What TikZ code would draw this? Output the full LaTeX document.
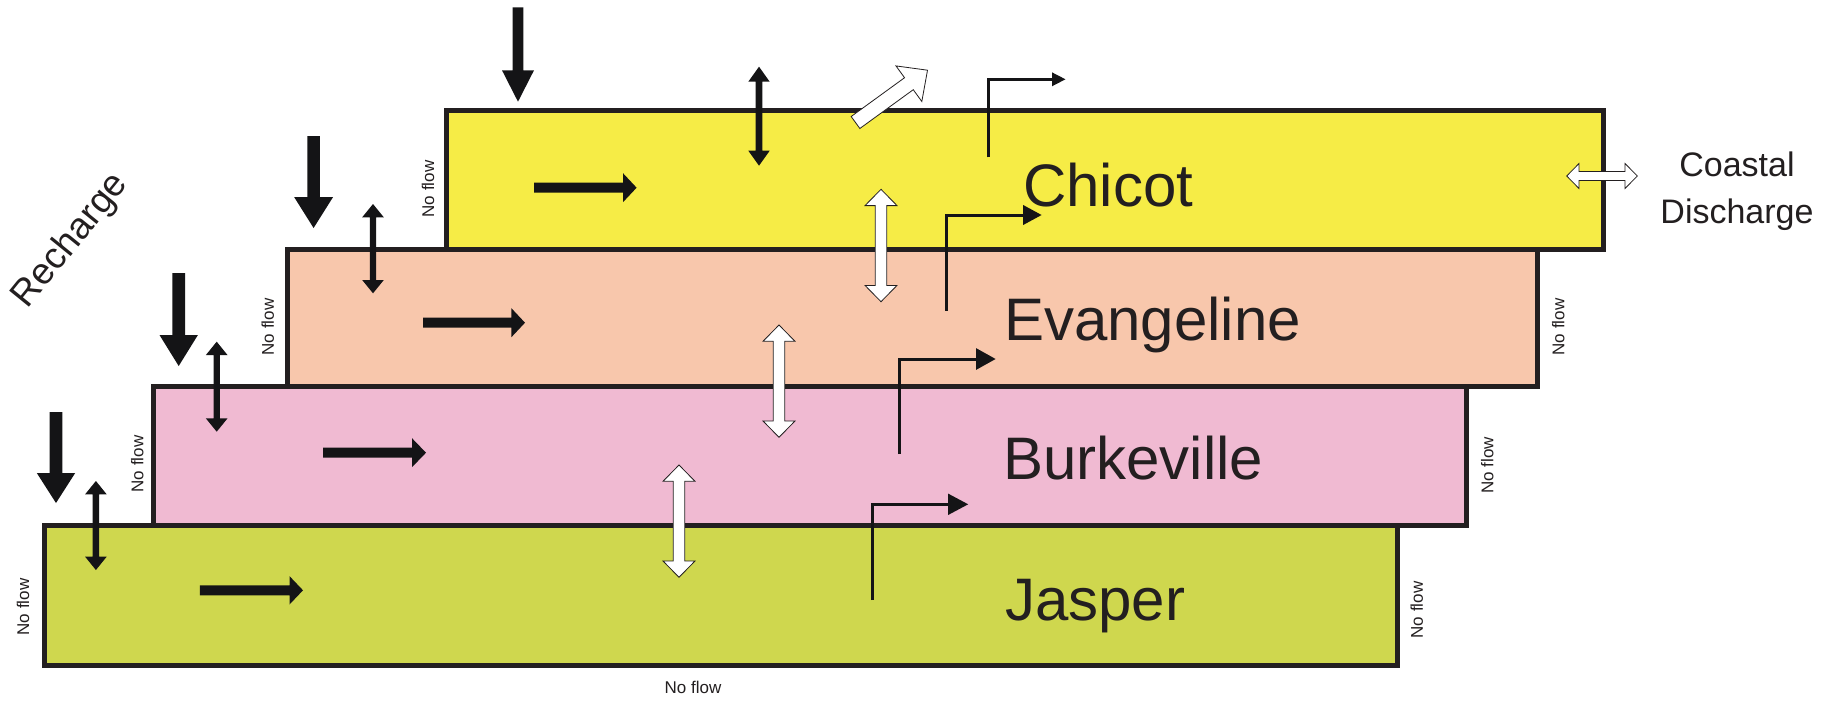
\documentclass[tikz,border=0pt]{standalone}
\usepackage{fontspec}
\setmainfont{Liberation Sans}
\usetikzlibrary{arrows.meta}
\definecolor{chicotc}{RGB}{246,236,70}
\definecolor{evanc}{RGB}{248,199,172}
\definecolor{burkc}{RGB}{240,186,210}
\definecolor{jaspc}{RGB}{207,215,78}
\definecolor{edgec}{RGB}{35,31,32}
\definecolor{arrowc}{RGB}{20,20,22}
\definecolor{textc}{RGB}{35,31,32}
% single fat arrow: style, start, angle, length, shaft half width, head half width, head length
\newcommand{\myarrow}[7]{%
  \begin{scope}[shift={#2},rotate=#3]
    \path[#1] (0,-#5) -- ({#4-#7},-#5) -- ({#4-#7},-#6) -- (#4,0) -- ({#4-#7},#6) -- ({#4-#7},#5) -- (0,#5) -- cycle;
  \end{scope}}
% double fat arrow: style, first tip, angle, length, shaft half width, head half width, head length
\newcommand{\mydarrow}[7]{%
  \begin{scope}[shift={#2},rotate=#3]
    \path[#1] (0,0) -- (#7,-#6) -- (#7,-#5) -- ({#4-#7},-#5) -- ({#4-#7},-#6) -- (#4,0) -- ({#4-#7},#6) -- ({#4-#7},#5) -- (#7,#5) -- (#7,#6) -- cycle;
  \end{scope}}
\begin{document}
\begin{tikzpicture}[x=1pt,y=-1pt,
  layer/.style={draw=edgec, line width=5pt, rectangle, inner sep=0pt, outer sep=0pt, anchor=north west},
  fatblack/.style={fill=arrowc, draw=none},
  hollow/.style={fill=white, draw=edgec, line width=0.8pt, line join=miter},
  bent/.style={draw=arrowc, line width=3pt},
  lname/.style={font=\fontsize{60}{72}\selectfont, text=textc, inner sep=0pt, anchor=base west},
  noflow/.style={font=\fontsize{17}{20}\selectfont, text=textc, inner sep=0pt},
  bigtxt/.style={font=\fontsize{34}{46.6}\selectfont, text=textc, inner sep=0pt, align=center}]
\fill[white] (0,0) rectangle (1839,702);
\useasboundingbox (0,0) rectangle (1839,702);

% aquifer layers
\node[layer, fill=jaspc, minimum width=1353pt, minimum height=139.3pt] (jasper) at (44.5,525.7) {};
\node[layer, fill=burkc, minimum width=1313pt, minimum height=139pt] (burk) at (153,386.7) {};
\node[layer, fill=evanc, minimum width=1250pt, minimum height=137.7pt] (evan) at (287,249) {};
\node[layer, fill=chicotc, minimum width=1157pt, minimum height=138.3pt] (chicot) at (446,110.7) {};

% layer names
\node[lname] (tchicot) at (1023,206.7) {Chicot};
\node[lname] (tevan) at (1004,340) {Evangeline};
\node[lname] (tburk) at (1003,479) {Burkeville};
\node[lname] (tjasp) at (1005,620) {Jasper};

% recharge arrows
\myarrow{fatblack}{(518,7.3)}{-90}{94.4}{5.4}{16}{31.4}
\myarrow{fatblack}{(313.6,136)}{-90}{92}{6.3}{19.5}{31}
\myarrow{fatblack}{(178.7,273)}{-90}{93}{6.3}{19.2}{31}
\myarrow{fatblack}{(56,412)}{-90}{91}{6.3}{19.2}{30}

% lateral flow arrows
\myarrow{fatblack}{(534,187.7)}{0}{102.6}{5}{14.5}{13.6}
\myarrow{fatblack}{(423,322.7)}{0}{102}{5}{14.5}{13.6}
\myarrow{fatblack}{(323,452.7)}{0}{103}{5}{14.5}{14}
\myarrow{fatblack}{(199.8,590.3)}{0}{103.2}{5}{14.2}{13.5}

% small black double arrows
\mydarrow{fatblack}{(759,66.7)}{-90}{99}{3.3}{10.7}{15}
\mydarrow{fatblack}{(373,204)}{-90}{89.3}{3.2}{10.8}{13.3}
\mydarrow{fatblack}{(216.7,341.7)}{-90}{90}{3.2}{10.8}{13.3}
\mydarrow{fatblack}{(95.9,481)}{-90}{89}{3.2}{10.8}{13.3}

% hollow leakage arrows
\mydarrow{hollow}{(881,189.3)}{-90}{112.4}{5.8}{16}{16.3}
\mydarrow{hollow}{(779,325)}{-90}{112.3}{5.8}{16}{16.3}
\mydarrow{hollow}{(679,465)}{-90}{112.3}{5.8}{16}{16.3}
\mydarrow{hollow}{(1566.7,176)}{0}{70.6}{4.5}{12.5}{12.3}
\myarrow{hollow}{(855.5,122.5)}{36}{89}{7.4}{22}{23}

% bent discharge arrows
\coordinate (b1s) at (988,157.3);  \coordinate (b1e) at (1065.7,79.3);
\coordinate (b2s) at (946,310.7);  \coordinate (b2e) at (1041.7,215);
\coordinate (b3s) at (899.3,454);  \coordinate (b3e) at (995.7,359);
\coordinate (b4s) at (872.3,600);  \coordinate (b4e) at (968.3,504.3);
\draw[bent, -{Triangle[length=13.7pt,width=13pt]}] (b1s) |- (b1e);
\draw[bent, -{Triangle[length=18.7pt,width=19.3pt]}] (b2s) |- (b2e);
\draw[bent, -{Triangle[length=19.7pt,width=21pt]}] (b3s) |- (b3e);
\draw[bent, -{Triangle[length=20.3pt,width=20.7pt]}] (b4s) |- (b4e);

% no flow labels
\node[noflow, rotate=90] (nf1) at (428,189) {No flow};
\node[noflow, rotate=90] (nf2) at (267.7,327) {No flow};
\node[noflow, rotate=90] (nf3) at (137.3,464) {No flow};
\node[noflow, rotate=90] (nf4) at (23,607) {No flow};
\node[noflow, rotate=90] (nf5) at (1558.3,327) {No flow};
\node[noflow, rotate=90] (nf6) at (1487.3,465.3) {No flow};
\node[noflow, rotate=90] (nf7) at (1416.7,610) {No flow};
\node[noflow] (nf8) at (693,687) {No flow};

% other labels
\node[bigtxt, font=\fontsize{37}{44}\selectfont, rotate=51] (recharge) at (71,241) {Recharge};
\node[bigtxt] (coastal) at (1737,191) {Coastal\\Discharge};
\end{tikzpicture}
\end{document}
